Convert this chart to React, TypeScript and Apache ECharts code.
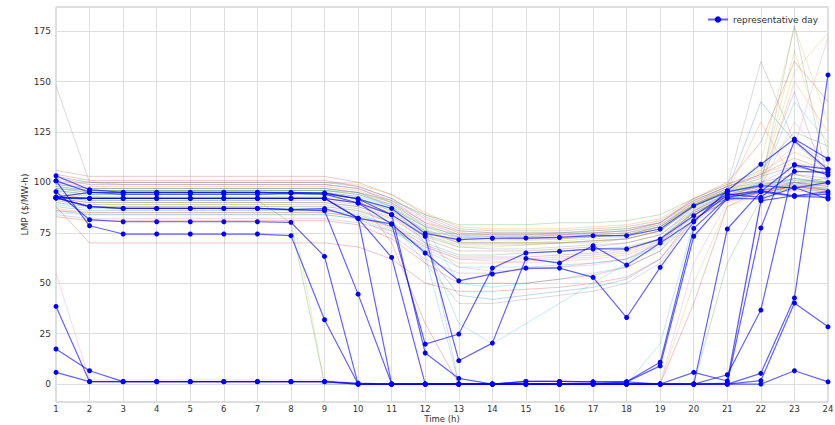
import React, { useEffect, useRef } from "react";
import * as echarts from "echarts";

const hours = [1, 2, 3, 4, 5, 6, 7, 8, 9, 10, 11, 12, 13, 14, 15, 16, 17, 18, 19, 20, 21, 22, 23, 24];
const yTicks = [0, 25, 50, 75, 100, 125, 150, 175];
const legendLabel = "representative day";

// representative days (blue, with markers)
const rep01 = [103.3, 96.4, 95.1, 95.1, 95.1, 95.1, 95.1, 95.1, 94.7, 91.8, 87.1, 74.7, 71.6, 72.3, 72.4, 72.7, 73.6, 73.6, 76.9, 88.4, 95.4, 98.4, 97.2, 100];
const rep02 = [92.3, 92.1, 92.1, 92.1, 92.1, 92.1, 92.1, 92.1, 92.1, 89.8, 79.4, 65, 51.2, 54.6, 57.5, 57.5, 52.9, 33, 57.9, 80.5, 95.9, 109, 121.5, 111.6];
const rep03 = [92.3, 92.1, 92.1, 92.1, 92.1, 92.1, 92.1, 92.1, 92.1, 82.2, 79.4, 19.8, 24.8, 57.5, 65, 65.8, 67, 67, 71.9, 83.5, 94.2, 92.6, 105.5, 105];
const rep04 = [92.7, 95.1, 94.2, 94.2, 94.2, 94.2, 94.2, 94.7, 94.2, 89.8, 84, 73.3, 11.6, 20.3, 62.3, 60, 68.6, 59, 70, 81, 93.7, 95.9, 93.4, 94.2];
const rep05 = [38.5, 1.2, 1.2, 1.2, 1.2, 1.2, 1.2, 1.2, 1.2, 0, 0, 0, 0, 0, 0, 0, 0, 1.1, 10.8, 77.2, 92.6, 95.4, 108.6, 106.6];
const rep06 = [17.4, 6.6, 1.2, 1.2, 1.2, 1.2, 1.2, 1.2, 1.2, 0.5, 0, 0, 0, 0, 1.3, 1.3, 1.1, 1.1, 9, 73.3, 92.1, 91.8, 97.5, 91.8];
const rep07 = [5.8, 1.2, 1.2, 1.2, 1.2, 1.2, 1.2, 1.2, 1.2, 0, 0, 0, 0, 0, 0, 0, 0, 0, 0, 0, 76.9, 95.4, 93.1, 92.6];
const rep08 = [95.4, 81.5, 80.5, 80.5, 80.5, 80.5, 80.5, 80.2, 63.3, 0, 0, 0, 0, 0, 0, 0, 0, 0, 0, 5.8, 1.5, 90.9, 93.4, 95.4];
const rep09 = [100.8, 78.5, 74.4, 74.4, 74.4, 74.4, 74.4, 73.6, 31.9, 0, 0, 0, 0, 0, 1.3, 1.3, 1.1, 1.1, 0, 0, 4.6, 36.7, 108.8, 103.7];
const rep10 = [92.3, 88, 87.1, 87.1, 87.1, 87.1, 87.1, 86.5, 86, 44.6, 0, 0, 0, 0, 0, 0, 0, 0, 0, 0, 0.5, 77.4, 120.7, 106.3];
const rep11 = [92.7, 92.1, 92.1, 92.1, 92.1, 92.1, 92.1, 92.1, 92.1, 82.2, 0, 0, 0, 0, 0, 0, 0, 0, 0, 0, 0, 5.3, 42.7, 153.3];
const rep12 = [92.3, 88, 87.1, 87.1, 87.1, 87.1, 87.1, 86.5, 87, 82.2, 62.8, 0, 0, 0, 0, 0, 0, 0, 0, 0, 0, 1.7, 40.2, 28.4];
const rep13 = [100.8, 95.1, 95.1, 95.1, 95.1, 95.1, 95.1, 94.7, 94.7, 91.8, 84, 15.4, 2.8, 0, 0, 0, 0, 0, 0, 0, 0, 0, 6.6, 1.1];
const repDays = [rep01, rep02, rep03, rep04, rep05, rep06, rep07, rep08, rep09, rep10, rep11, rep12, rep13];

// all other days (thin, faint)
const bg01 = [96, 94, 94, 94, 94, 94, 94, 94, 94, 92, 86, 76, 73, 73, 73, 74, 74, 75, 78, 88, 95, 98, 100, 102];
const bg02 = [100, 98, 98, 98, 98, 98, 98, 98, 98, 96, 90, 80, 76, 75, 75, 75, 76, 77, 80, 90, 97, 104, 110, 106];
const bg03 = [90, 88, 88, 88, 88, 88, 88, 88, 88, 86, 80, 70, 64, 64, 65, 66, 67, 68, 72, 86, 93, 96, 98, 97];
const bg04 = [104, 101, 101, 101, 101, 101, 101, 101, 101, 98, 92, 82, 75, 74, 74, 74, 75, 76, 80, 92, 100, 120, 160, 140];
const bg05 = [86, 84, 84, 84, 84, 84, 84, 84, 84, 82, 74, 62, 55, 55, 57, 58, 60, 62, 70, 84, 92, 94, 96, 94];
const bg06 = [95, 93, 92, 92, 92, 92, 92, 92, 92, 90, 85, 74, 68, 68, 69, 70, 71, 72, 76, 89, 96, 110, 177, 130];
const bg07 = [148, 100, 99, 99, 99, 99, 99, 99, 99, 97, 90, 78, 72, 72, 72, 73, 73, 74, 78, 90, 98, 160, 120, 110];
const bg08 = [92, 90, 90, 90, 90, 90, 90, 90, 90, 88, 82, 72, 66, 66, 66, 67, 68, 70, 74, 87, 94, 98, 104, 100];
const bg09 = [55, 2, 2, 2, 2, 2, 2, 2, 2, 0, 0, 0, 0, 0, 0, 0, 0, 0, 0, 60, 90, 95, 100, 98];
const bg10 = [98, 96, 96, 96, 96, 96, 96, 96, 96, 94, 88, 78, 50, 48, 50, 52, 55, 58, 66, 86, 95, 100, 140, 120];
const bg11 = [88, 86, 86, 86, 86, 86, 86, 86, 86, 84, 78, 66, 44, 42, 44, 46, 48, 52, 62, 84, 92, 96, 100, 96];
const bg12 = [102, 100, 100, 100, 100, 100, 100, 100, 100, 99, 94, 85, 78, 77, 77, 77, 78, 79, 82, 92, 99, 105, 115, 108];
const bg13 = [93, 91, 91, 91, 91, 91, 91, 80, 0, 0, 0, 0, 0, 0, 0, 0, 0, 0, 0, 0, 60, 92, 100, 98];
const bg14 = [97, 95, 95, 95, 95, 95, 95, 95, 95, 93, 70, 30, 0, 0, 0, 0, 0, 0, 0, 40, 88, 96, 98, 96];
const bg15 = [84, 82, 82, 82, 82, 82, 82, 82, 82, 80, 76, 68, 62, 62, 62, 63, 64, 66, 72, 85, 92, 100, 108, 104];
const bg16 = [100, 97, 97, 97, 97, 97, 97, 97, 97, 95, 89, 77, 70, 70, 70, 71, 72, 73, 77, 89, 96, 102, 155, 174];
const bg17 = [91, 89, 89, 89, 89, 89, 89, 89, 89, 87, 80, 60, 40, 40, 42, 44, 46, 50, 60, 82, 93, 97, 102, 99];
const bg18 = [106, 103, 103, 103, 103, 103, 103, 103, 103, 100, 94, 84, 77, 76, 76, 76, 77, 78, 81, 91, 98, 104, 112, 106];
const bg19 = [94, 92, 92, 92, 92, 92, 92, 92, 92, 90, 84, 70, 58, 56, 57, 58, 59, 62, 70, 86, 94, 98, 130, 110];
const bg20 = [89, 87, 87, 87, 87, 87, 87, 87, 87, 85, 78, 64, 0, 0, 0, 0, 0, 0, 20, 80, 92, 96, 99, 97];
const bg21 = [99, 97, 97, 97, 97, 97, 97, 97, 97, 95, 88, 76, 70, 70, 70, 70, 71, 72, 76, 88, 96, 140, 120, 105];
const bg22 = [87, 85, 85, 85, 85, 85, 85, 85, 85, 83, 77, 67, 60, 60, 61, 62, 63, 65, 71, 85, 93, 97, 150, 125];
const bg23 = [96, 94, 94, 94, 94, 94, 94, 94, 94, 92, 87, 78, 74, 74, 74, 75, 75, 76, 79, 89, 96, 99, 101, 100];
const bg24 = [83, 81, 81, 81, 81, 81, 81, 81, 81, 79, 72, 60, 50, 50, 50, 52, 54, 58, 66, 82, 91, 95, 98, 95];
const bg25 = [101, 99, 99, 99, 99, 99, 99, 99, 99, 97, 91, 80, 0, 0, 0, 0, 0, 0, 0, 0, 0, 90, 100, 99];
const bg26 = [95, 93, 93, 93, 93, 93, 93, 93, 93, 91, 86, 76, 71, 71, 71, 72, 73, 74, 78, 89, 96, 101, 165, 115];
const bg27 = [92, 90, 90, 90, 90, 90, 90, 90, 90, 88, 83, 73, 68, 67, 67, 68, 69, 70, 74, 86, 94, 98, 102, 100];
const bg28 = [98, 96, 96, 96, 96, 96, 96, 96, 96, 94, 89, 79, 73, 72, 72, 72, 73, 74, 78, 89, 97, 100, 104, 102];
const bg29 = [90, 88, 88, 88, 88, 88, 88, 88, 88, 86, 80, 68, 62, 61, 60, 61, 62, 64, 70, 85, 93, 97, 100, 97];
const bg30 = [85, 84, 84, 84, 84, 84, 84, 84, 84, 82, 76, 66, 58, 58, 58, 59, 60, 62, 68, 84, 92, 95, 97, 95];
const bg31 = [103, 100, 100, 100, 100, 100, 100, 100, 100, 98, 92, 83, 76, 75, 75, 75, 76, 77, 80, 91, 98, 103, 108, 104];
const bg32 = [94, 92, 92, 92, 92, 92, 92, 92, 92, 90, 85, 75, 70, 70, 70, 70, 71, 72, 76, 88, 95, 130, 100, 98];
const bg33 = [97, 96, 96, 96, 96, 96, 96, 96, 96, 95, 91, 84, 79, 79, 79, 80, 80, 81, 84, 92, 99, 106, 125, 118];
const bg34 = [88, 70, 70, 70, 70, 70, 70, 70, 70, 68, 62, 50, 46, 46, 47, 48, 50, 53, 62, 82, 91, 95, 98, 96];
const bg35 = [99, 97, 97, 97, 97, 97, 97, 97, 97, 95, 90, 80, 74, 73, 73, 73, 74, 75, 79, 90, 97, 102, 145, 98];
const bg36 = [91, 89, 89, 89, 89, 89, 89, 89, 0, 0, 0, 0, 0, 0, 0, 0, 0, 0, 0, 50, 88, 94, 97, 95];
const bg37 = [93, 91, 91, 91, 91, 91, 91, 91, 91, 89, 84, 74, 69, 69, 69, 70, 70, 72, 76, 88, 95, 99, 178, 100];
const bg38 = [86, 85, 85, 85, 85, 85, 85, 85, 85, 83, 78, 69, 63, 63, 63, 64, 65, 67, 72, 85, 93, 96, 99, 96];
const bg39 = [102, 99, 99, 99, 99, 99, 99, 99, 99, 97, 91, 81, 74, 74, 74, 74, 75, 76, 80, 91, 98, 104, 118, 172];
const bg40 = [97, 95, 95, 95, 95, 95, 95, 95, 95, 93, 88, 70, 30, 20, 30, 40, 50, 60, 72, 88, 95, 99, 102, 100];
const bgDays = [bg01, bg02, bg03, bg04, bg05, bg06, bg07, bg08, bg09, bg10, bg11, bg12, bg13, bg14, bg15, bg16, bg17, bg18, bg19, bg20,
  bg21, bg22, bg23, bg24, bg25, bg26, bg27, bg28, bg29, bg30, bg31, bg32, bg33, bg34, bg35, bg36, bg37, bg38, bg39, bg40];

const palette = ["#1f77b4", "#ff7f0e", "#2ca02c", "#d62728", "#9467bd", "#bcbd22", "#7f7f7f", "#8c564b", "#e377c2", "#17becf"];
const FONT = "DejaVu Sans";

export default function App() {
  const ref = useRef<HTMLDivElement>(null);
  useEffect(() => {
    if (!ref.current) return;
    const chart = echarts.init(ref.current, undefined, { renderer: "svg" });
    const toPairs = (vals: number[]) => vals.map((v, i) => [hours[i], v]);
    const bgSeries = bgDays.map((d, i) => ({
      type: "line",
      name: "day" + (i + 1),
      data: toPairs(d),
      showSymbol: false,
      symbol: "none",
      silent: true,
      lineStyle: { width: 1, color: palette[i % palette.length], opacity: 0.28 },
      z: 1,
    }));
    const repSeries = repDays.map((d) => ({
      type: "line",
      name: legendLabel,
      data: toPairs(d),
      symbol: "circle",
      symbolSize: 5,
      showSymbol: true,
      lineStyle: { width: 1.2, color: "#0000ff", opacity: 0.62 },
      itemStyle: { color: "#0000ff" },
      z: 3,
    }));
    chart.setOption({
      animation: false,
      backgroundColor: "#ffffff",
      textStyle: { fontFamily: FONT },
      grid: {
        left: 56, right: 7, top: 7, bottom: 23,
        outerBoundsMode: "none",
        containLabel: false,
        show: true, borderColor: "#bdbdbd", borderWidth: 1,
      },
      legend: {
        data: [legendLabel],
        right: 12,
        top: 10,
        itemWidth: 20,
        itemHeight: 8,
        itemGap: 4,
        textStyle: { fontSize: 9, color: "#333", fontFamily: FONT },
      },
      xAxis: {
        type: "value",
        min: 1,
        max: 24,
        interval: 1,
        name: "Time (h)",
        nameLocation: "middle",
        nameGap: 12,
        nameMoveOverlap: false,
        nameTextStyle: { fontSize: 8.5, color: "#333", fontFamily: FONT, lineHeight: 9, verticalAlign: "top" },
        axisLine: { show: false },
        axisTick: { show: false },
        axisLabel: {
          fontSize: 8.5,
          color: "#333",
          margin: 2,
          fontFamily: FONT,
          lineHeight: 9,
          formatter: (v: number) => (hours.includes(v) ? String(v) : ""),
        },
        splitLine: { show: true, lineStyle: { color: "#dedede", width: 1 } },
      },
      yAxis: {
        type: "value",
        min: -8.9,
        max: 187,
        minInterval: 25,
        maxInterval: 25,
        name: "LMP ($/MW-h)",
        nameLocation: "middle",
        nameGap: 27,
        nameMoveOverlap: false,
        nameTextStyle: { fontSize: 9, color: "#333", fontFamily: FONT },
        axisLine: { show: false },
        axisTick: { show: false },
        axisLabel: {
          fontSize: 9,
          color: "#333",
          margin: 5,
          fontFamily: FONT,
          showMinLabel: false,
          showMaxLabel: false,
          formatter: (v: number) => (yTicks.includes(v) ? String(v) : ""),
        },
        splitLine: { show: true, lineStyle: { color: "#dedede", width: 1 } },
      },
      series: [...bgSeries, ...repSeries],
    });
    return () => chart.dispose();
  }, []);
  return <div ref={ref} style={{ position: "absolute", left: 0, top: 0, width: 835, height: 425 }} />;
}
